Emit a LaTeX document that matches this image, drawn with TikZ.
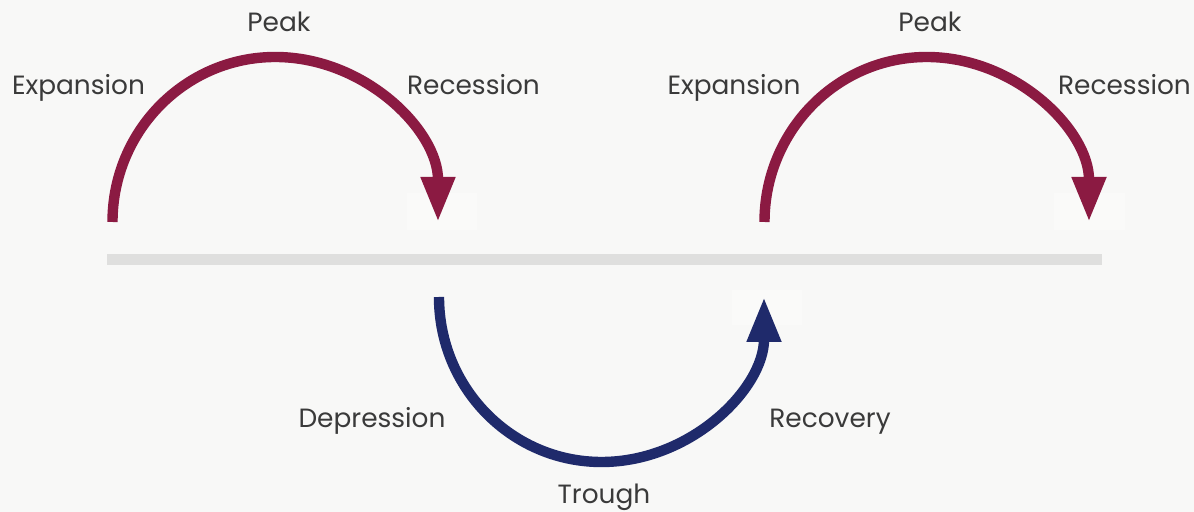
\documentclass[tikz,border=0pt]{standalone}
\usepackage{fontspec}
\setmainfont{Poppins}
\usetikzlibrary{arrows.meta}
\definecolor{bgc}{HTML}{F8F8F7}
\definecolor{barc}{HTML}{DFDFDE}
\definecolor{maroon}{HTML}{8B1A42}
\definecolor{navy}{HTML}{1F2A6B}
\definecolor{txt}{HTML}{3A3A3A}
\definecolor{ghost}{HTML}{FAFAF9}
\tikzset{
  lbl/.style={anchor=base, text=txt, font=\fontsize{13.2}{16}\selectfont, inner sep=0pt},
  cyc/.style={line width=5.2pt, -{Triangle[length=22.5pt,width=16pt]}},
  ghostbox/.style={fill=ghost, draw=none}
}
\begin{document}
\begin{tikzpicture}[x=0.5pt,y=-0.5pt]
\useasboundingbox[fill=bgc] (0,0) rectangle (1194,512);
% faint boxes near arrow tips
\fill[ghostbox] (407,193) rectangle (477,230);
\fill[ghostbox] (1054,193) rectangle (1125,230);
\fill[ghostbox] (732,290) rectangle (802,325);
% axis bar
\coordinate (barL) at (107,259.5);
\coordinate (barR) at (1102,259.5);
\draw[barc, line width=5.5pt] (barL) -- (barR);
% coordinates
\coordinate (a1s) at (112.5,222);
\coordinate (a2s) at (764.5,222);
\coordinate (a3s) at (439,297);
% arcs
\draw[cyc, maroon] (a1s) arc[start angle=180, end angle=360, x radius=162.75, y radius=165];
\draw[cyc, maroon] (a2s) arc[start angle=180, end angle=360, x radius=162.25, y radius=165];
\draw[cyc, navy] (a3s) arc[start angle=180, end angle=0, x radius=162.5, y radius=165];
% labels
\node[lbl] (exp1) at (78.5,95) {Expansion};
\node[lbl] (peak1) at (279,32) {Peak};
\node[lbl] (rec1) at (473.5,95) {Recession};
\node[lbl] (exp2) at (734,95) {Expansion};
\node[lbl] (peak2) at (930,32) {Peak};
\node[lbl] (rec2) at (1124.5,95) {Recession};
\node[lbl] (dep) at (372,428) {Depression};
\node[lbl] (recov) at (830,428) {Recovery};
\node[lbl] (trough) at (604,503.5) {Trough};
\end{tikzpicture}
\end{document}
